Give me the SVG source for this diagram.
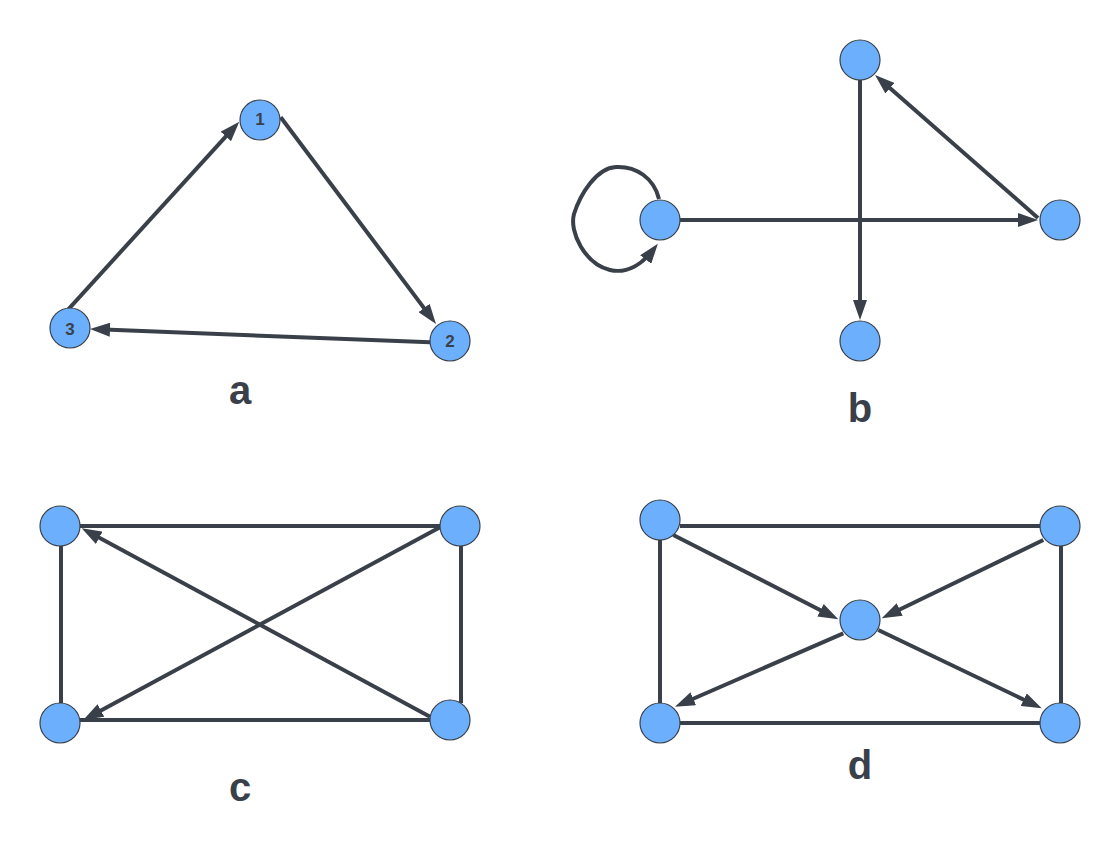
<svg xmlns="http://www.w3.org/2000/svg" width="1120" height="862" viewBox="0 0 1120 862">
<style>
.n{fill:#6cb0fd;stroke:#3a404a;stroke-width:1.2}
.e{fill:none;stroke:#3a404a;stroke-width:4}
.a{marker-end:url(#arr)}
.lbl{font-family:"Liberation Sans",Arial,sans-serif;font-weight:bold;fill:#3a404a;text-anchor:middle}
.big{font-size:40px}
.num{font-size:17px}
</style>
<defs>
<marker id="arr" markerUnits="userSpaceOnUse" markerWidth="20" markerHeight="14" refX="12" refY="7" orient="auto">
<path d="M0,0 L20,7 L0,14 z" fill="#3a404a"/>
</marker>
</defs>
<rect width="1120" height="862" fill="#ffffff"/>
<g id="connectors">
<!-- a -->
<path class="e a" d="M280.7,117.3 L431.2,317.6"/>
<path class="e a" d="M68.3,309.3 L233.9,127.6"/>
<path class="e a" d="M430,342.3 L98,329.3"/>
<!-- b -->
<path class="e a" d="M680,220 L1030,220"/>
<path class="e a" d="M860,80 L860,312"/>
<path class="e a" d="M1038,218 L881,80.3"/>
<path class="e a" d="M659,199 C654,178 636,166 616,167 C596,168 580,195 574,214 C569,232 585,264 610,270 C628,274 643,263 653,250"/>
<!-- c -->
<path class="e" d="M440,526 L80,526"/>
<path class="e" d="M61,546 L61,703"/>
<path class="e" d="M461,546 L461,703"/>
<path class="e" d="M430,720 L80,720"/>
<path class="e a" d="M430,716.7 L88.7,532.1"/>
<path class="e a" d="M440,527.3 L90.3,716.2"/>
<!-- d -->
<path class="e" d="M680,526 L1040,526"/>
<path class="e" d="M660,540 L660,703"/>
<path class="e" d="M1061,546 L1061,703"/>
<path class="e" d="M680,723 L1040,723"/>
<path class="e a" d="M673.3,535 L831.2,615.7"/>
<path class="e a" d="M1043.3,540 L888.9,614.8"/>
<path class="e a" d="M843.3,633.3 L682.3,703.5"/>
<path class="e a" d="M878.3,630 L1034.5,704.8"/>
</g>
<g id="a1"><circle class="n" cx="260" cy="120" r="20"/><text class="lbl num" x="260" y="124.5">1</text></g>
<g id="a2"><circle class="n" cx="450" cy="341" r="20"/><text class="lbl num" x="450" y="346.5">2</text></g>
<g id="a3"><circle class="n" cx="70" cy="328" r="20"/><text class="lbl num" x="70" y="335">3</text></g>
<g id="label-a"><text class="lbl big" x="240" y="404">a</text></g>
<g id="b-top"><circle class="n" cx="860" cy="60" r="20"/></g>
<g id="b-left"><circle class="n" cx="660" cy="220" r="20"/></g>
<g id="b-right"><circle class="n" cx="1060" cy="220" r="20"/></g>
<g id="b-bottom"><circle class="n" cx="860" cy="341" r="20"/></g>
<g id="label-b"><text class="lbl big" x="860" y="422">b</text></g>
<g id="c-tl"><circle class="n" cx="60" cy="526" r="20"/></g>
<g id="c-tr"><circle class="n" cx="460" cy="526" r="20"/></g>
<g id="c-bl"><circle class="n" cx="60" cy="723" r="20"/></g>
<g id="c-br"><circle class="n" cx="450" cy="720" r="20"/></g>
<g id="label-c"><text class="lbl big" x="240" y="801">c</text></g>
<g id="d-tl"><circle class="n" cx="660" cy="520" r="20"/></g>
<g id="d-tr"><circle class="n" cx="1060" cy="526" r="20"/></g>
<g id="d-c"><circle class="n" cx="860" cy="620" r="20"/></g>
<g id="d-bl"><circle class="n" cx="660" cy="723" r="20"/></g>
<g id="d-br"><circle class="n" cx="1060" cy="723" r="20"/></g>
<g id="label-d"><text class="lbl big" x="860" y="779">d</text></g>
</svg>
